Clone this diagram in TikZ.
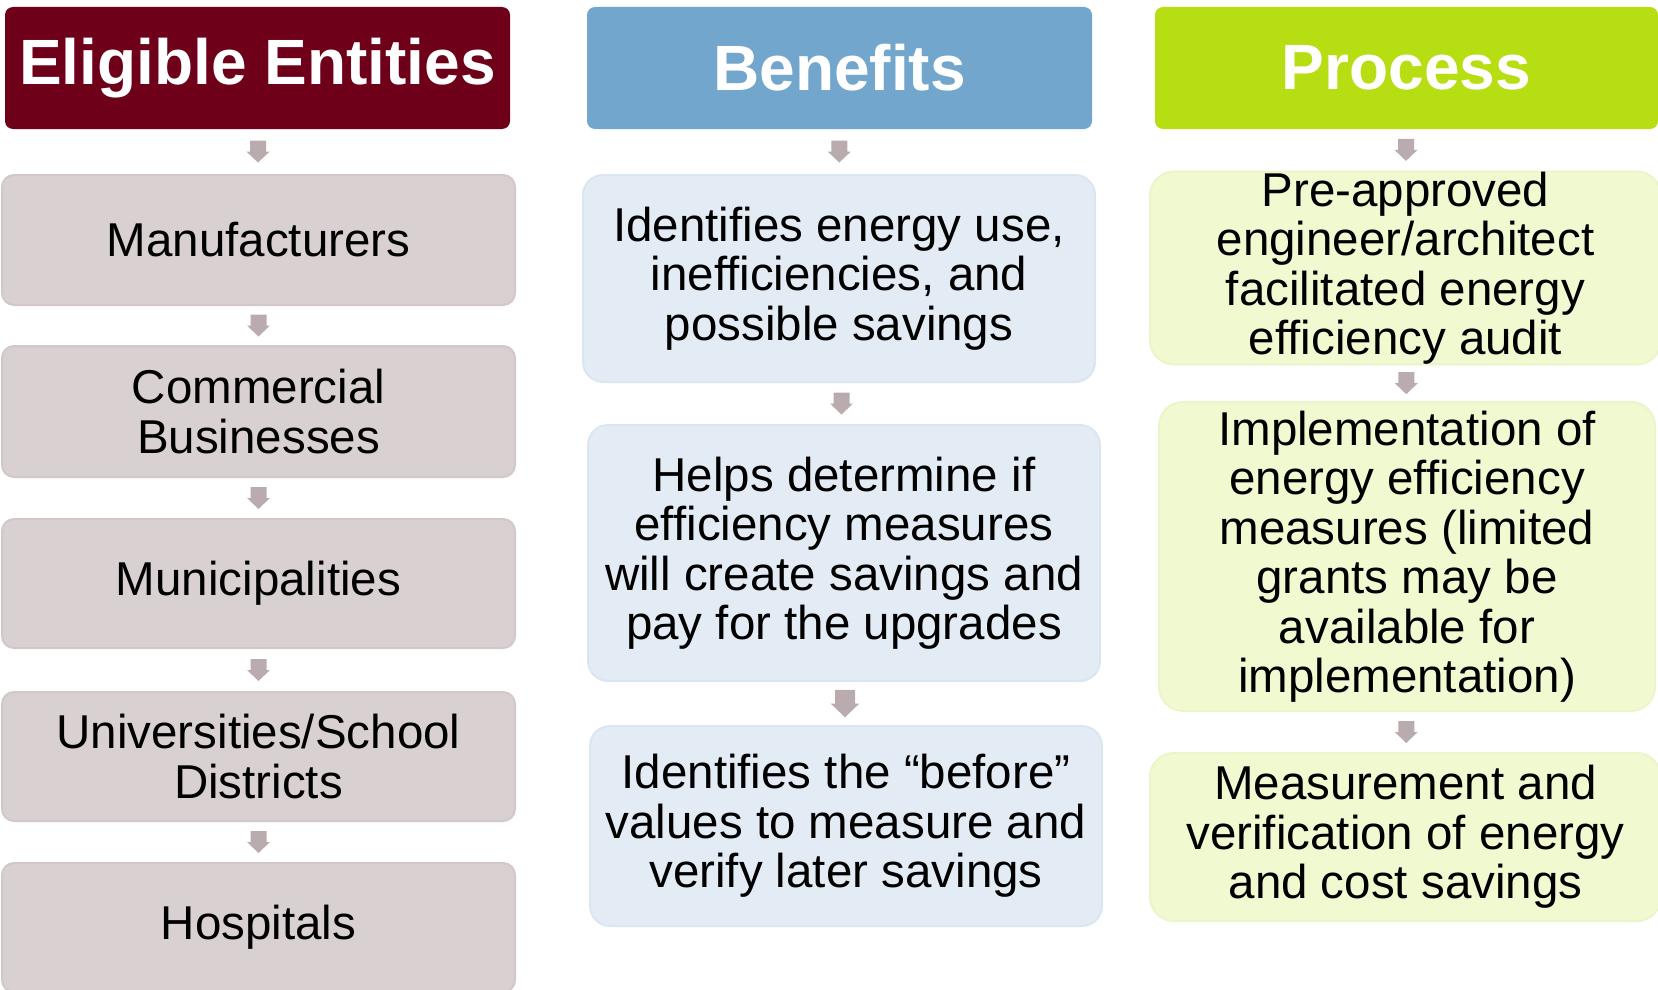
\documentclass[tikz,border=0pt]{standalone}
\usepackage{fontspec}
\setmainfont{Liberation Sans}
\usetikzlibrary{calc}
\definecolor{hmaroon}{HTML}{6F0019}
\definecolor{hblue}{HTML}{73A6CD}
\definecolor{hlime}{HTML}{B7DE12}
\definecolor{cafill}{HTML}{D9D0D2}
\definecolor{caline}{HTML}{D2C8CA}
\definecolor{cbfill}{HTML}{E3ECF5}
\definecolor{cbline}{HTML}{DCE6F1}
\definecolor{ccfill}{HTML}{F1F9D1}
\definecolor{ccline}{HTML}{EBF5C9}
\definecolor{arrowc}{HTML}{B9ABAE}
\tikzset{
  headbox/.style={rectangle, rounded corners=8pt, inner sep=0pt, text=white,
    font=\fontsize{64}{66}\selectfont\bfseries, minimum height=122pt},
  bodytext/.style={rectangle, inner sep=0pt, align=center, text=black,
    font=\fontsize{47.5}{49.5}\selectfont, line width=2pt},
  boxa/.style={bodytext, rounded corners=12pt, fill=cafill, draw=caline},
  boxb/.style={bodytext, rounded corners=20pt, fill=cbfill, draw=cbline},
  boxc/.style={bodytext, rounded corners=24pt, fill=ccfill, draw=ccline},
}
\newcommand\downarr[3][1]{%
  \path ($(#2.south)!0.5!(#3.north)$) coordinate (tmpm);
  \fill[arrowc, shift={(tmpm)}, scale=#1] (-8,-11) -- (8,-11) -- (8,0) -- (11.5,0) -- (0,11) -- (-11.5,0) -- (-8,0) -- cycle;}
\begin{document}
\begin{tikzpicture}[x=1pt, y=-1pt]
\useasboundingbox (0,0) rectangle (1658,990);
\clip (0,0) rectangle (1658,990);
% headers
\node[headbox, fill=hmaroon, minimum width=505pt] (h1) at (257.5,68) {\raisebox{-2pt}{Eligible Entities}};
\node[headbox, fill=hblue, minimum width=505pt] (h2) at (839.5,68) {\raisebox{-2pt}{Benefits}};
\node[headbox, fill=hlime, minimum width=503pt] (h3) at (1406.5,68) {\raisebox{-2pt}{Process}};
% column 1
\node[boxa, minimum width=513pt, minimum height=130pt] (a1) at (258.5,240) {Manufacturers};
\node[boxa, minimum width=513pt, minimum height=131pt] (a2) at (258.5,411.5) {Commercial\\Businesses};
\node[boxa, minimum width=513pt, minimum height=129pt] (a3) at (258.5,583.5) {Municipalities};
\node[boxa, minimum width=513pt, minimum height=129pt] (a4) at (258.5,756.5) {Universities/School\\Districts};
\node[boxa, minimum width=513pt, minimum height=129pt] (a5) at (258.5,927.5) {Hospitals};
% column 2
\node[boxb, minimum width=512pt, minimum height=207pt] (b1) at (839,278.5) {Identifies energy use,\\inefficiencies, and\\possible savings};
\node[boxb, minimum width=512pt, minimum height=256pt] (b2) at (844,553) {Helps determine if\\efficiency measures\\will create savings and\\pay for the upgrades};
\node[boxb, minimum width=512pt, minimum height=200pt] (b3) at (846,826) {Identifies the “before”\\values to measure and\\verify later savings};
% column 3
\node[boxc, minimum width=511pt, minimum height=186pt] (c1) at (1405.5,268) {Pre-approved\\engineer/architect\\facilitated energy\\efficiency audit};
\node[boxc, minimum width=496pt, minimum height=309pt] (c2) at (1407,556.5) {Implementation of\\energy efficiency\\measures (limited\\grants may be\\available for\\implementation)};
\node[boxc, minimum width=511pt, minimum height=168pt] (c3) at (1405.5,837) {Measurement and\\verification of energy\\and cost savings};
% arrows
\downarr{h1}{a1}
\downarr{a1}{a2}
\downarr{a2}{a3}
\downarr{a3}{a4}
\downarr{a4}{a5}
\downarr{h2}{b1}
\downarr{b1}{b2}
\downarr[1.25]{b2}{b3}
\downarr{h3}{c1}
\downarr{c1}{c2}
\downarr{c2}{c3}
\end{tikzpicture}
\end{document}
